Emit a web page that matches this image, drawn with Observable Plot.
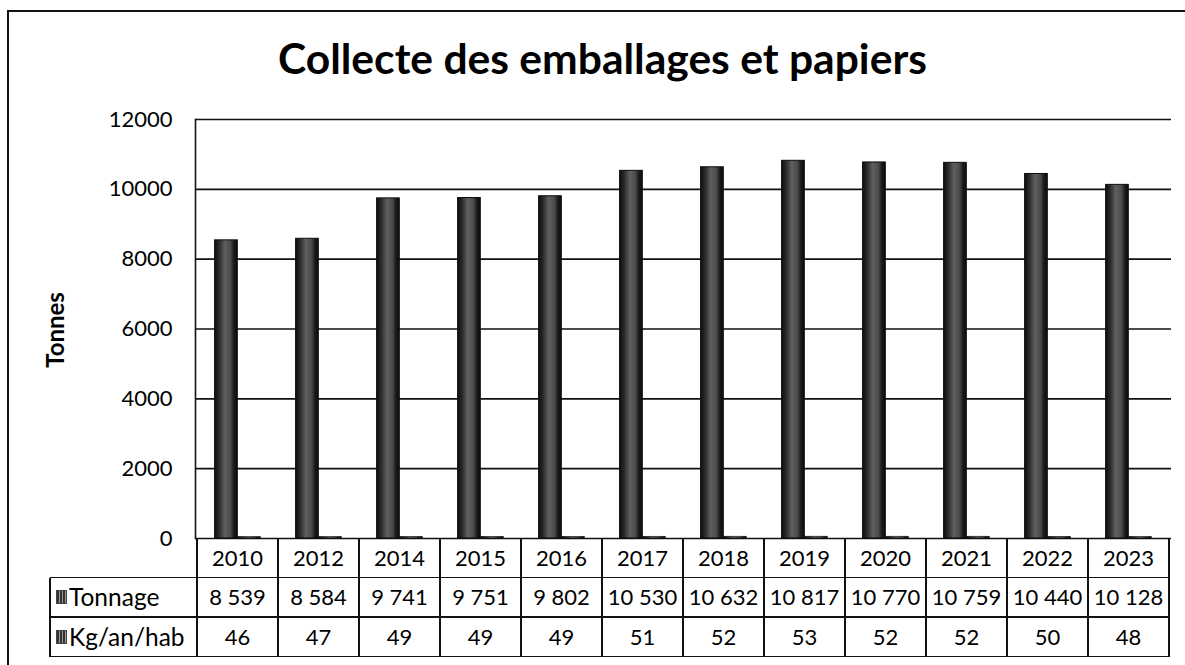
<!DOCTYPE html>
<html>
<head>
<meta charset="utf-8">
<script src="https://cdn.jsdelivr.net/npm/d3@7"></script>
<script src="https://cdn.jsdelivr.net/npm/@observablehq/plot@0.6"></script>
<style>
  html, body { margin: 0; padding: 0; background: #fff; }
  #wrap { position: relative; width: 1185px; height: 665px; overflow: hidden; background: #fff;
          font-family: Lato, "Open Sans", "DejaVu Sans", sans-serif; color: #000; }
  #border { position: absolute; left: 7px; top: 10px; width: 1300px; height: 800px;
            border-left: 2px solid #111; border-top: 2px solid #111; }
  #title { position: absolute; left: 0; top: 0; white-space: nowrap; font-weight: 700;
           font-size: 40px; line-height: 1; }
  #ylabel { position: absolute; font-weight: 700; font-size: 24px; line-height: 1;
            transform: rotate(-90deg); transform-origin: center center; white-space: nowrap; }
  #chart { position: absolute; left: 0; top: 0; }
  .hl, .vl { position: absolute; background: #111; }
  .cell { position: absolute; display: flex; align-items: center; justify-content: center;
          white-space: nowrap; font-size: 22px; line-height: 1; }
  .lab { position: absolute; display: flex; align-items: center; white-space: nowrap;
         font-size: 24.5px; line-height: 1; }
  .icon { display: inline-block; width: 9px; height: 12px; margin-right: 2px;
          background: repeating-linear-gradient(90deg, #333 0 2px, #999 2px 3px);
          border: 1px solid #444; }
</style>
</head>
<body>
<svg width="0" height="0" style="position:absolute">
  <defs>
    <linearGradient id="barGrad" x1="0" x2="1" y1="0" y2="0">
      <stop offset="0" stop-color="#0d0d0d"/>
      <stop offset="0.2" stop-color="#2a2a2a"/>
      <stop offset="0.45" stop-color="#606060"/>
      <stop offset="0.7" stop-color="#4a4a4a"/>
      <stop offset="0.85" stop-color="#1a1a1a"/>
      <stop offset="1" stop-color="#0d0d0d"/>
    </linearGradient>
  </defs>
</svg>
<div id="wrap">
  <div id="border"></div>
  <div id="chart"></div>
  <div id="title">Collecte des emballages et papiers</div>
  <div id="ylabel">Tonnes</div>
  <div id="table"></div>
</div>
<script>
// ---- Data ----
const titleText = "Collecte des emballages et papiers";
const yLabel = "Tonnes";
const years = ["2010", "2012", "2014", "2015", "2016", "2017", "2018", "2019", "2020", "2021", "2022", "2023"];
const seriesNames = ["Tonnage", "Kg/an/hab"];
const tonnage = [8539, 8584, 9741, 9751, 9802, 10530, 10632, 10817, 10770, 10759, 10440, 10128];
const kgHab = [46, 47, 49, 49, 49, 51, 52, 53, 52, 52, 50, 48];
const yTicks = [0, 2000, 4000, 6000, 8000, 10000, 12000];

const tonnageRows = years.map((year, i) => ({year, series: seriesNames[0], value: tonnage[i]}));
const kgRows = years.map((year, i) => ({year, series: seriesNames[1], value: kgHab[i]}));

const frSpace = n => String(n).replace(/\B(?=(\d{3})+(?!\d))/g, " ");

// ---- Chart ----
const W = 1185, H = 665;
const chart = Plot.plot({
  width: W,
  height: H,
  marginTop: 119,
  marginBottom: 127,
  marginLeft: 195,
  marginRight: 14,
  style: {fontFamily: "Lato, 'Open Sans', sans-serif", fontSize: "22px", color: "#000", background: "transparent"},
  x: {domain: years, padding: 0, axis: null},
  y: {domain: [0, 12000], ticks: yTicks, tickFormat: d => String(d), tickSize: 0, tickPadding: 23, label: null},
  marks: [
    Plot.ruleY(yTicks, {stroke: "#111", strokeWidth: 1.6}),
    Plot.barY(tonnageRows, {x: "year", y: "value", fill: "url(#barGrad)", stroke: "#0d0d0d", strokeWidth: 1, insetLeft: 17.6, insetRight: 40.7}),
    Plot.barY(kgRows, {x: "year", y: "value", fill: "url(#barGrad)", stroke: "#0d0d0d", strokeWidth: 0.5, insetLeft: 40.7, insetRight: 17.6}),
    Plot.frame({anchor: "left", stroke: "#111", strokeWidth: 1.6})
  ]
});
document.getElementById("chart").appendChild(chart);

// ---- Title ----
const title = document.getElementById("title");
title.textContent = titleText;
const tw = title.getBoundingClientRect().width;
const fs = 40 * 649 / tw;
title.style.fontSize = fs + "px";
const tw2 = title.getBoundingClientRect().width;
title.style.left = (602.5 - tw2 / 2) + "px";
title.style.top = (71 - fs * 0.8) + "px";

// ---- Y label (rotated around its own centre) ----
const yl = document.getElementById("ylabel");
yl.textContent = yLabel;
yl.style.left = (55 - yl.offsetWidth / 2) + "px";
yl.style.top = (330 - yl.offsetHeight / 2) + "px";

// ---- Data table under the axis (columns from the Plot x scale) ----
const sx = chart.scale("x");
const sy = chart.scale("y");
const bw = sx.bandwidth;
const y0 = sy.apply(0);
const rowH = 39.5;
const labelLeft = 50;
const tableRight = sx.apply(years[years.length - 1]) + bw;
const table = document.getElementById("table");
const add = (cls, css, html) => {
  const d = document.createElement("div");
  d.className = cls;
  Object.assign(d.style, css);
  if (html !== undefined) d.innerHTML = html;
  table.appendChild(d);
  return d;
};
const lw = 1.6;
for (let r = 1; r <= 3; r++) {
  add("hl", {left: labelLeft + "px", top: (y0 + r * rowH - lw / 2) + "px", width: (tableRight - labelLeft + lw / 2) + "px", height: lw + "px"});
}
const xs0 = sx.apply(years[0]);
for (let i = 0; i <= years.length; i++) {
  const x = xs0 + i * bw;
  add("vl", {left: (x - lw / 2) + "px", top: y0 + "px", width: lw + "px", height: (3 * rowH) + "px"});
}
add("vl", {left: (labelLeft - lw / 2) + "px", top: (y0 + rowH) + "px", width: lw + "px", height: (2 * rowH) + "px"});
years.forEach((year, i) => {
  const x = sx.apply(year);
  add("cell", {left: x + "px", top: y0 + "px", width: bw + "px", height: rowH + "px"}, year);
  add("cell", {left: x + "px", top: (y0 + rowH) + "px", width: bw + "px", height: rowH + "px"}, frSpace(tonnage[i]));
  add("cell", {left: x + "px", top: (y0 + 2 * rowH) + "px", width: bw + "px", height: rowH + "px"}, String(kgHab[i]));
});
seriesNames.forEach((name, k) => {
  add("lab", {left: (labelLeft + 6) + "px", top: (y0 + (k + 1) * rowH) + "px", height: rowH + "px"},
      '<span class="icon"></span>' + name);
});
</script>
</body>
</html>
